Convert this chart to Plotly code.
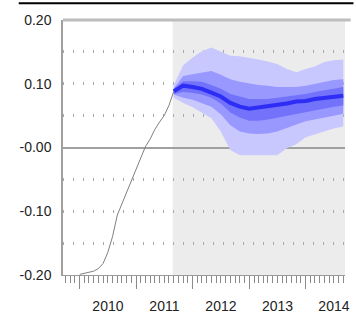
import pandas as pd
import plotly.graph_objects as go

# Observed history (monthly)
hist_dates = pd.date_range("2010-01-01", "2011-09-01", freq="MS")
hist_vals = [-0.199, -0.197, -0.195, -0.194, -0.190, -0.182, -0.165, -0.140,
             -0.106, -0.088, -0.070, -0.053, -0.034, -0.016, 0.001, 0.013,
             0.028, 0.040, 0.050, 0.066, 0.088]

# Forecast fan (every two months)
fc_dates = pd.date_range("2011-09-01", "2014-09-01", freq="2MS")
fc_median = [0.088, 0.097, 0.095, 0.092, 0.086, 0.080, 0.070, 0.064, 0.061, 0.063,
             0.064, 0.067, 0.069, 0.072, 0.073, 0.076, 0.078, 0.080, 0.081]
outer_hi = [0.098, 0.129, 0.141, 0.151, 0.157, 0.151, 0.144, 0.143, 0.141, 0.138,
            0.135, 0.131, 0.123, 0.118, 0.123, 0.127, 0.134, 0.137, 0.138]
outer_lo = [0.078, 0.070, 0.063, 0.055, 0.046, 0.025, -0.004, -0.012, -0.013, -0.013,
            -0.012, -0.012, -0.001, 0.005, 0.016, 0.021, 0.025, 0.030, 0.033]
mid_hi = [0.093, 0.112, 0.115, 0.118, 0.120, 0.114, 0.107, 0.103, 0.100, 0.098,
          0.097, 0.095, 0.095, 0.095, 0.097, 0.100, 0.103, 0.106, 0.107]
mid_lo = [0.083, 0.078, 0.075, 0.070, 0.064, 0.052, 0.035, 0.025, 0.022, 0.021,
          0.022, 0.025, 0.030, 0.036, 0.041, 0.044, 0.047, 0.050, 0.053]
inner_hi = [0.092, 0.104, 0.104, 0.103, 0.098, 0.092, 0.084, 0.080, 0.076, 0.076,
            0.076, 0.078, 0.080, 0.081, 0.084, 0.087, 0.089, 0.092, 0.095]
inner_lo = [0.084, 0.087, 0.086, 0.083, 0.078, 0.069, 0.055, 0.047, 0.042, 0.042,
            0.044, 0.047, 0.049, 0.052, 0.055, 0.058, 0.061, 0.064, 0.066]

y_ticks = [-0.20, -0.15, -0.10, -0.05, 0.0, 0.05, 0.10, 0.15, 0.20]
y_text = ["-0.20", "", "-0.10", "", "-0.00", "", "0.10", "", "0.20"]

forecast_start = "2011-08-25"
x_range = ["2009-09-15", "2014-09-12"]

FONT = "Liberation Sans, Arial, sans-serif"

fig = go.Figure()

band_x = list(fc_dates) + list(fc_dates[::-1])
for hi, lo, color in [(outer_hi, outer_lo, "rgb(200,200,255)"),
                      (mid_hi, mid_lo, "rgb(152,152,255)"),
                      (inner_hi, inner_lo, "rgb(114,114,250)")]:
    fig.add_trace(go.Scatter(
        x=band_x, y=list(hi) + list(lo[::-1]), fill="toself",
        fillcolor=color, line=dict(width=0), mode="lines",
        hoverinfo="skip", showlegend=False))

fig.add_trace(go.Scatter(x=fc_dates, y=fc_median, mode="lines",
                         line=dict(color="rgb(45,45,245)", width=4),
                         showlegend=False))
fig.add_trace(go.Scatter(x=hist_dates, y=hist_vals, mode="lines",
                         line=dict(color="#808080", width=1),
                         showlegend=False))

# forecast period shading
fig.add_shape(type="rect", xref="x", yref="paper", x0=forecast_start, x1=x_range[1],
              y0=0, y1=1, fillcolor="#ececec", line=dict(width=0), layer="below")
# top rule
fig.add_shape(type="line", xref="paper", yref="paper", x0=0, x1=1.02, y0=1, y1=1,
              line=dict(color="#bdbdbd", width=3), layer="above")
# black header rule
fig.add_shape(type="line", xref="paper", yref="paper", x0=-0.157, x1=1.03,
              y0=1.066, y1=1.066, line=dict(color="black", width=2))

fig.update_layout(
    width=356, height=320,
    margin=dict(l=63, r=6, t=20, b=41),
    paper_bgcolor="white", plot_bgcolor="white",
    font=dict(family=FONT, size=14, color="#222"),
    xaxis=dict(
        range=x_range, type="date",
        tick0="2010-01-01", dtick="M12", tickformat="%Y",
        ticklabelmode="period", ticks="outside", ticklen=13,
        tickcolor="#8a8a8a", tickwidth=1,
        showgrid=False, zeroline=False,
        showline=True, linecolor="#9a9a9a", linewidth=1,
        minor=dict(tick0="2010-01-01", dtick="M1",
                   ticks="outside", ticklen=7, tickcolor="#8a8a8a",
                   tickwidth=1, showgrid=False),
        ticklabelstandoff=5,
    ),
    yaxis=dict(
        range=[-0.2, 0.2], tickmode="array", tickvals=y_ticks, ticktext=y_text,
        ticks="", ticklabelstandoff=7,
        showgrid=True, gridcolor="#a8a8a8", gridwidth=3, griddash="1px,9px",
        zeroline=True, zerolinecolor="#a0a0a0", zerolinewidth=2,
        showline=True, linecolor="#a0a0a0", linewidth=1.5,
    ),
)

fig.write_html("out.html")
